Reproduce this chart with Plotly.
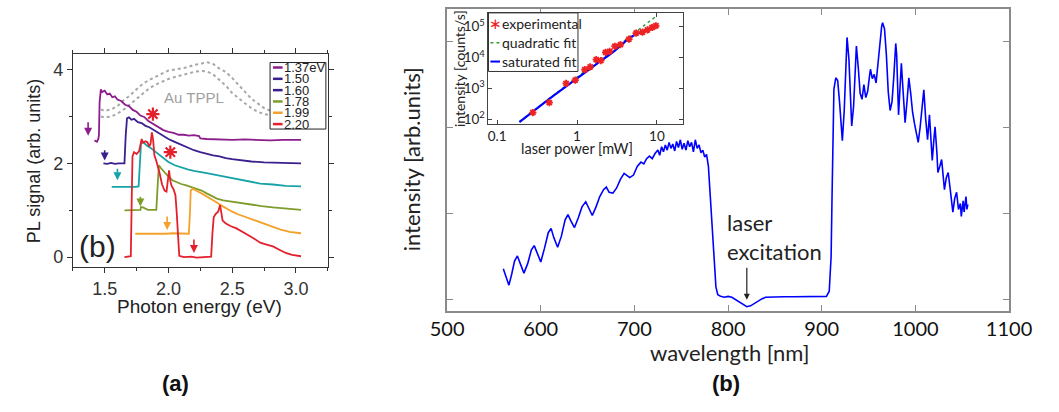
import plotly.graph_objects as go

# ---------------- data: panel (a) ----------------
exc_energies = [1.37, 1.50, 1.60, 1.78, 1.99, 2.20]
exc_labels = ['1.37eV', '1.50', '1.60', '1.78', '1.99', '2.20']
arrow_top = [2.91, 2.31, 1.92, 1.32, 0.90, 0.41]
arrow_bot = [2.59, 2.06, 1.64, 1.08, 0.58, 0.09]

pl_137 = [(1.42,2.49),(1.44,2.46),(1.45,2.52),(1.455,2.60),(1.46,3.30),(1.47,3.58),(1.48,3.52),(1.50,3.55),
          (1.52,3.47),(1.54,3.49),(1.56,3.41),(1.58,3.43),(1.60,3.36),(1.63,3.33),(1.66,3.25),(1.69,3.22),
          (1.72,3.14),(1.75,3.10),(1.78,3.02),(1.81,2.99),(1.84,2.91),(1.87,2.86),(1.90,2.80),(1.93,2.76),
          (1.96,2.71),(2.00,2.67),(2.04,2.65),(2.08,2.61),(2.12,2.61),(2.16,2.59),(2.20,2.60),(2.24,2.58),
          (2.25,2.53),(2.30,2.52),(2.40,2.51),(2.50,2.50),(2.60,2.51),(2.70,2.50),(2.80,2.49),(2.90,2.50),
          (3.00,2.50),(3.04,2.50)]
pl_150 = [(1.49,2.00),(1.52,1.99),(1.55,2.01),(1.58,1.99),(1.61,2.00),(1.64,2.01),(1.655,2.00),(1.665,2.60),
          (1.675,2.96),(1.69,2.98),(1.71,2.93),(1.73,2.95),(1.76,2.88),(1.79,2.86),(1.82,2.80),(1.85,2.77),
          (1.88,2.72),(1.91,2.66),(1.94,2.62),(1.97,2.56),(2.00,2.52),(2.04,2.47),(2.08,2.42),(2.12,2.38),
          (2.16,2.33),(2.20,2.28),(2.25,2.24),(2.30,2.20),(2.35,2.17),(2.40,2.15),(2.45,2.11),(2.50,2.09),
          (2.57,2.06),(2.65,2.04),(2.75,2.02),(2.85,2.01),(2.95,2.00),(3.04,2.00)]
pl_160 = [(1.555,1.50),(1.60,1.50),(1.65,1.49),(1.70,1.50),(1.74,1.50),(1.766,1.51),(1.775,2.10),(1.785,2.42),
          (1.80,2.46),(1.83,2.38),(1.86,2.33),(1.90,2.24),(1.93,2.17),(1.96,2.10),(2.00,2.03),(2.05,1.96),
          (2.10,1.91),(2.15,1.87),(2.20,1.84),(2.25,1.82),(2.30,1.79),(2.38,1.75),(2.45,1.71),(2.50,1.68),
          (2.57,1.64),(2.65,1.60),(2.72,1.57),(2.82,1.55),(2.92,1.52),(3.04,1.51)]
pl_178 = [(1.655,1.00),(1.70,1.00),(1.75,1.01),(1.78,1.01),(1.785,1.07),(1.80,1.06),(1.84,1.01),(1.88,1.00),
          (1.905,1.01),(1.915,1.50),(1.925,1.96),(1.94,1.90),(1.96,1.84),(1.98,1.76),(2.00,1.72),(2.03,1.64),
          (2.06,1.60),(2.10,1.56),(2.14,1.53),(2.18,1.49),(2.22,1.46),(2.26,1.42),(2.30,1.36),(2.34,1.30),
          (2.38,1.25),(2.43,1.21),(2.50,1.18),(2.57,1.15),(2.65,1.12),(2.73,1.09),(2.82,1.06),(2.92,1.03),
          (3.04,1.01)]
pl_199 = [(1.74,0.50),(1.80,0.50),(1.86,0.49),(1.92,0.50),(1.98,0.50),(2.04,0.51),(2.10,0.50),(2.16,0.50),
          (2.168,0.90),(2.175,1.42),(2.19,1.46),(2.21,1.42),(2.23,1.40),(2.26,1.36),(2.30,1.30),(2.33,1.25),
          (2.37,1.18),(2.41,1.11),(2.45,1.04),(2.50,0.97),(2.55,0.91),(2.60,0.86),(2.65,0.81),(2.70,0.76),
          (2.76,0.70),(2.82,0.65),(2.88,0.59),(2.95,0.54),(3.04,0.51)]
pl_220 = [(1.655,0.00),(1.69,0.01),(1.705,0.02),(1.712,1.20),(1.718,2.15),(1.73,2.24),(1.75,2.20),(1.77,2.26),
          (1.78,2.42),(1.79,2.52),(1.80,2.44),(1.82,2.47),(1.835,2.45),(1.85,2.36),(1.86,2.42),(1.87,2.66),
          (1.88,2.50),(1.89,2.17),(1.905,2.05),(1.915,1.96),(1.93,1.80),(1.95,1.55),(1.97,1.42),(1.985,1.40),
          (1.995,1.65),(2.005,1.85),(2.015,1.62),(2.025,1.52),(2.04,1.45),(2.055,1.32),(2.065,0.95),(2.075,0.35),
          (2.085,0.03),(2.12,0.00),(2.18,0.01),(2.22,-0.01),(2.28,0.00),(2.335,0.01),(2.345,0.50),(2.355,0.85),
          (2.37,0.92),(2.39,0.97),(2.405,1.11),(2.415,0.95),(2.425,0.78),(2.45,0.72),(2.49,0.66),(2.53,0.62),
          (2.58,0.55),(2.62,0.48),(2.67,0.40),(2.72,0.31),(2.77,0.27),(2.82,0.23),(2.87,0.16),(2.92,0.09),
          (2.97,0.05),(3.04,0.02)]
pl_series = [pl_137, pl_150, pl_160, pl_178, pl_199, pl_220]

tppl_upper = [(1.47,3.15),(1.50,3.12),(1.55,3.15),(1.60,3.22),(1.65,3.35),(1.70,3.45),(1.75,3.58),(1.80,3.70),
              (1.85,3.78),(1.90,3.85),(1.95,3.92),(2.00,3.98),(2.05,4.00),(2.10,4.03),(2.15,4.05),(2.20,4.10),
              (2.25,4.12),(2.30,4.16),(2.35,4.12),(2.40,4.02),(2.45,3.95),(2.50,3.82),(2.55,3.68),(2.60,3.52),
              (2.65,3.38),(2.70,3.28),(2.75,3.18),(2.80,3.12),(2.85,3.08)]
tppl_lower = [(1.47,3.00),(1.50,2.98),(1.55,3.00),(1.60,3.06),(1.65,3.15),(1.70,3.26),(1.75,3.38),(1.80,3.50),
              (1.85,3.60),(1.90,3.68),(1.95,3.74),(2.00,3.80),(2.05,3.84),(2.10,3.88),(2.15,3.92),(2.20,3.95),
              (2.25,3.97),(2.30,3.96),(2.35,3.90),(2.40,3.78),(2.45,3.66),(2.50,3.50),(2.55,3.38),(2.60,3.28),
              (2.65,3.18),(2.70,3.10),(2.75,3.05),(2.80,3.02),(2.85,3.00)]

star_x = [1.878, 2.015]
star_y = [3.05, 2.24]

# ---------------- data: panel (b) ----------------
spectrum = [(560,0.36),(563,0.25),(566,0.17),(569,0.30),(572,0.45),(575,0.51),(578,0.42),(582,0.31),
            (586,0.42),(590,0.58),(593,0.63),(596,0.55),(600,0.44),(604,0.60),(608,0.78),(611,0.83),
            (614,0.72),(618,0.61),(622,0.74),(626,0.93),(629,0.99),(632,0.92),(636,0.84),(640,0.95),
            (644,1.08),(648,1.14),(651,1.07),(655,0.98),(659,1.08),(663,1.20),(667,1.28),(670,1.31),
            (673,1.25),(677,1.24),(681,1.30),(685,1.40),(689,1.47),(692,1.44),(695,1.42),(699,1.45),
            (703,1.55),(707,1.60),(710,1.58),(713,1.64),(716,1.67),(719,1.64),(722,1.70),(725,1.74),
            (727,1.68),(729,1.78),(731,1.72),(733,1.80),(735,1.74),(737,1.83),(739,1.76),(741,1.81),
            (743,1.73),(745,1.84),(747,1.77),(749,1.86),(751,1.75),(753,1.82),(755,1.74),(757,1.85),
            (759,1.78),(761,1.83),(763,1.72),(765,1.86),(767,1.76),(769,1.80),(771,1.71),(773,1.74),
            (775,1.66),(777,1.69),(779,1.55),(781,1.20),(783,0.80),(785,0.40),(787,0.15),(789,0.06),
            (792,0.04),(796,0.03),(800,0.04),(804,0.03),(808,0.00),(812,-0.03),(816,-0.06),(820,-0.08),
            (824,-0.07),(828,-0.04),(832,-0.01),(836,0.01),(840,0.03),(850,0.035),(860,0.035),(870,0.035),
            (880,0.035),(890,0.035),(900,0.035),(905,0.04),(908,0.10),(910,0.50),(911,1.20),(912,2.00),
            (913,2.45),(915,2.58),(917,2.55),(919,2.30),(921,1.90),(922,1.85),(924,2.20),(926,2.75),
            (927,3.05),(929,2.80),(931,2.20),(932,2.02),(934,2.25),(936,2.80),(937,2.95),(939,2.70),
            (941,2.40),(943,2.33),(945,2.50),(947,2.35),(949,2.42),(951,2.60),(952,2.68),(954,2.57),
            (956,2.62),(958,2.52),(960,2.75),(962,2.98),(964,3.18),(965,3.22),(967,3.15),(969,2.85),
            (971,2.42),(973,2.20),(975,2.30),(977,2.60),(979,2.98),(980,2.85),(982,2.15),(984,2.55),
            (985,2.75),(987,2.40),(989,2.06),(991,2.30),(993,2.58),(995,2.40),(997,2.18),(999,2.05),
            (1001,1.95),(1003,1.83),(1005,2.00),(1007,2.25),(1009,2.44),(1011,2.10),(1013,1.86),(1015,2.15),
            (1017,1.80),(1018,1.62),(1020,1.90),(1021,2.01),(1023,1.70),(1024,1.48),(1026,1.55),(1028,1.63),
            (1030,1.40),(1031,1.28),(1033,1.42),(1035,1.48),(1037,1.30),(1039,1.10),(1040,1.02),(1042,1.18),
            (1044,1.25),(1046,1.05),(1048,1.12),(1049,0.97),(1051,1.15),(1052,1.02),(1054,1.20),(1055,1.05),
            (1056,1.11)]
laser_nm = 820

exp_power = [0.28,0.45,0.73,0.95,1.25,1.46,1.74,1.99,2.28,2.56,2.98,3.5,4.47,5.5,6.6,7.6,8.7,9.7]
exp_int = [164,345,1450,1860,4070,5000,8600,7950,14800,15900,23300,26400,39800,62500,67500,79600,94700,108000]
quad_power = [0.19,0.5,1,2,3.2,5,10]
quad_int = [83,575,2300,9200,23500,57500,230000]
sat_power = [0.19,0.5,1,2,3,4,5,6,7,8,9.5]
sat_int = [80,560,2100,7900,17000,33000,50000,63000,75000,85000,100000]

# ---------------- styling ----------------
W, H = 1059, 412
def fx(p): return p / W
def fy(p): return 1 - p / H

curve_colors = ['#8c1d8c', '#3b1f8e', '#16a3a8', '#7e9c2c', '#f3a12a', '#e5202d']
legend_colors = ['#8c1d8c', '#3b1f8e', '#3b1f8e', '#7e9c2c', '#f3a12a', '#e5202d']
FA = 'Liberation Sans, Arial, sans-serif'
FB = 'Lato, sans-serif'

fig = go.Figure()

for band in (tppl_upper, tppl_lower):
    fig.add_trace(go.Scatter(x=[p[0] for p in band], y=[p[1] for p in band], mode='lines',
                             line=dict(color='#a8a8a8', width=2, dash='dot'),
                             xaxis='x', yaxis='y', showlegend=False, hoverinfo='skip'))
for s, c in zip(pl_series, curve_colors):
    fig.add_trace(go.Scatter(x=[p[0] for p in s], y=[p[1] for p in s], mode='lines',
                             line=dict(color=c, width=1.8), xaxis='x', yaxis='y', showlegend=False))
fig.add_trace(go.Scatter(x=star_x, y=star_y, mode='markers', xaxis='x', yaxis='y', showlegend=False,
                         marker=dict(symbol='asterisk-open', size=11, color='#e5202d',
                                     line=dict(color='#e5202d', width=2.2))))

fig.add_trace(go.Scatter(x=[p[0] for p in spectrum], y=[p[1] for p in spectrum], mode='lines',
                         line=dict(color='#0000ff', width=1.6), xaxis='x2', yaxis='y2', showlegend=False))

fig.add_trace(go.Scatter(x=quad_power, y=quad_int, mode='lines', line=dict(color='#3a9a3a', width=1.5, dash='dot'),
                         xaxis='x3', yaxis='y3', showlegend=False))
fig.add_trace(go.Scatter(x=sat_power, y=sat_int, mode='lines', line=dict(color='#0000ff', width=2.2, shape='spline'),
                         xaxis='x3', yaxis='y3', showlegend=False))
fig.add_trace(go.Scatter(x=exp_power, y=exp_int, mode='markers', xaxis='x3', yaxis='y3', showlegend=False,
                         marker=dict(symbol='asterisk-open', size=6, color='#ee2222',
                                     line=dict(color='#ee2222', width=1.8))))

ax_a = dict(showline=True, linecolor='#333', linewidth=1, mirror='ticks', ticks='outside', ticklen=5,
            tickcolor='#333', showgrid=False, zeroline=False, tickfont=dict(family=FA, size=18, color='#333'))
fig.update_layout(
    xaxis=dict(domain=[fx(58), fx(323)], range=[1.25, 3.25], anchor='y', tick0=1.5, dtick=0.5, tickformat='.1f',
               minor=dict(ticks='outside', ticklen=3, tick0=1.25, dtick=0.25, tickcolor='#333'), **ax_a),
    yaxis=dict(domain=[fy(269), fy(54)], range=[-0.21, 4.34], anchor='x', tick0=0, dtick=2,
               minor=dict(ticks='outside', ticklen=3, tick0=0, dtick=1, tickcolor='#333'), **ax_a),
)
ax_b = dict(showline=True, linecolor='#8a8a8a', linewidth=1.5, mirror='ticks', ticks='inside', ticklen=6,
            tickcolor='#8a8a8a', showgrid=False, zeroline=False, tickfont=dict(family=FB, size=20, color='#111'))
fig.update_layout(
    xaxis2=dict(domain=[fx(447), fx(1031)], range=[500, 1100], anchor='y2', tick0=500, dtick=100, **ax_b),
    yaxis2=dict(domain=[fy(313), fy(9)], range=[-0.127, 3.381], anchor='x2', tickvals=[0, 1, 2, 3],
                showticklabels=False, **ax_b),
)
ax_c = dict(showline=True, linecolor='#444', linewidth=1, mirror='ticks', ticks='inside', ticklen=4,
            tickcolor='#444', showgrid=False, zeroline=False, tickfont=dict(family=FB, size=13.5, color='#222'))
fig.update_layout(
    xaxis3=dict(domain=[fx(490), fx(692)], type='log', range=[-1.108, 1.325], anchor='y3',
                tickvals=[0.1, 1, 10], ticktext=['0.1', '1', '10'], **ax_c),
    yaxis3=dict(domain=[fy(125), fy(13)], type='log', range=[1.84, 5.45], anchor='x3',
                tickvals=[1e2, 1e3, 1e4, 1e5],
                ticktext=['10<sup>2</sup>', '10<sup>3</sup>', '10<sup>4</sup>', '10<sup>5</sup>'], **ax_c),
)

ann = []
shapes = []
def txt(x, y, t, font, size, color='#222', angle=0, xanchor='center', align='center', **kw):
    ann.append(dict(x=x, y=y, xref=kw.pop('xref', 'paper'), yref=kw.pop('yref', 'paper'), text=t,
                    showarrow=False, textangle=angle, xanchor=xanchor, yanchor='middle', align=align,
                    borderpad=0, font=dict(family=font, size=size, color=color), **kw))

# panel (a) texts
txt(fx(18), fy(162), 'PL signal (arb. units)', FA, 18, angle=-90)
txt(fx(190), fy(309), 'Photon energy (eV)', FA, 19)
txt(fx(84), fy(248), '(b)', FA, 30)
txt(2.2, 3.40, 'Au TPPL', FA, 15, color='#a0a0a0', xref='x', yref='y')
txt(fx(165), fy(386), '<b>(a)</b>', FA, 22, color='#111')
txt(fx(737), fy(386), '<b>(b)</b>', FA, 22, color='#111')

# excitation arrows
for e, yt, yb, c in zip(exc_energies, arrow_top, arrow_bot, curve_colors):
    ann.append(dict(x=e, y=yb, ax=e, ay=yt, xref='x', yref='y', axref='x', ayref='y', text='',
                    showarrow=True, arrowhead=2, arrowsize=1, arrowwidth=1.6, arrowcolor=c))

# panel (a) legend (compact box)
shapes.append(dict(type='rect', xref='paper', yref='paper', x0=fx(263), x1=fx(321), y0=fy(130), y1=fy(63),
                   line=dict(color='#222', width=1), fillcolor='white', layer='above'))
for i, (lab, c) in enumerate(zip(exc_labels, legend_colors)):
    yy = 68 + 11.4 * i
    shapes.append(dict(type='line', xref='paper', yref='paper', x0=fx(266), x1=fx(276), y0=fy(yy), y1=fy(yy),
                       line=dict(color=c, width=2.5), layer='above'))
    txt(fx(276.5), fy(yy), lab, FA, 13, color='#222', xanchor='left')

# panel (b) texts
txt(fx(410), fy(161), 'intensity [arb.units]', FB, 22, angle=-90)
txt(fx(740), fy(355), 'wavelength [nm]', FB, 22)
txt(fx(737), fy(239), 'laser<br>excitation', FB, 22, xanchor='left', align='left')
ann.append(dict(x=laser_nm, y=0.0, ax=laser_nm, ay=0.39, xref='x2', yref='y2', axref='x2', ayref='y2',
                text='', showarrow=True, arrowhead=2, arrowsize=1, arrowwidth=1.2, arrowcolor='#222'))
txt(fx(460), fy(69), 'intensity [counts/s]', FB, 14, angle=-90)
txt(fx(582), fy(150), 'laser power [mW]', FB, 14.5)

# inset legend
shapes.append(dict(type='rect', xref='paper', yref='paper', x0=fx(490), x1=fx(583), y0=fy(72), y1=fy(13),
                   line=dict(color='#333', width=1), fillcolor='white', layer='above'))
inset_names = ['experimental', 'quadratic fit', 'saturated fit']
for i, name in enumerate(inset_names):
    yy = 24 + 19 * i
    if i == 0:
        txt(fx(497), fy(yy), '∗', 'DejaVu Sans', 15, color='#ee2222')
    elif i == 1:
        shapes.append(dict(type='line', xref='paper', yref='paper', x0=fx(492), x1=fx(502), y0=fy(yy), y1=fy(yy),
                           line=dict(color='#3a9a3a', width=1.5, dash='dot'), layer='above'))
    else:
        shapes.append(dict(type='line', xref='paper', yref='paper', x0=fx(492), x1=fx(502), y0=fy(yy), y1=fy(yy),
                           line=dict(color='#0000ff', width=2), layer='above'))
    txt(fx(503), fy(yy), name, FB, 14, color='#222', xanchor='left')

fig.update_layout(width=W, height=H, margin=dict(l=0, r=0, t=0, b=0), paper_bgcolor='white',
                  plot_bgcolor='white', showlegend=False, annotations=ann, shapes=shapes)

fig.write_html('out.html')
